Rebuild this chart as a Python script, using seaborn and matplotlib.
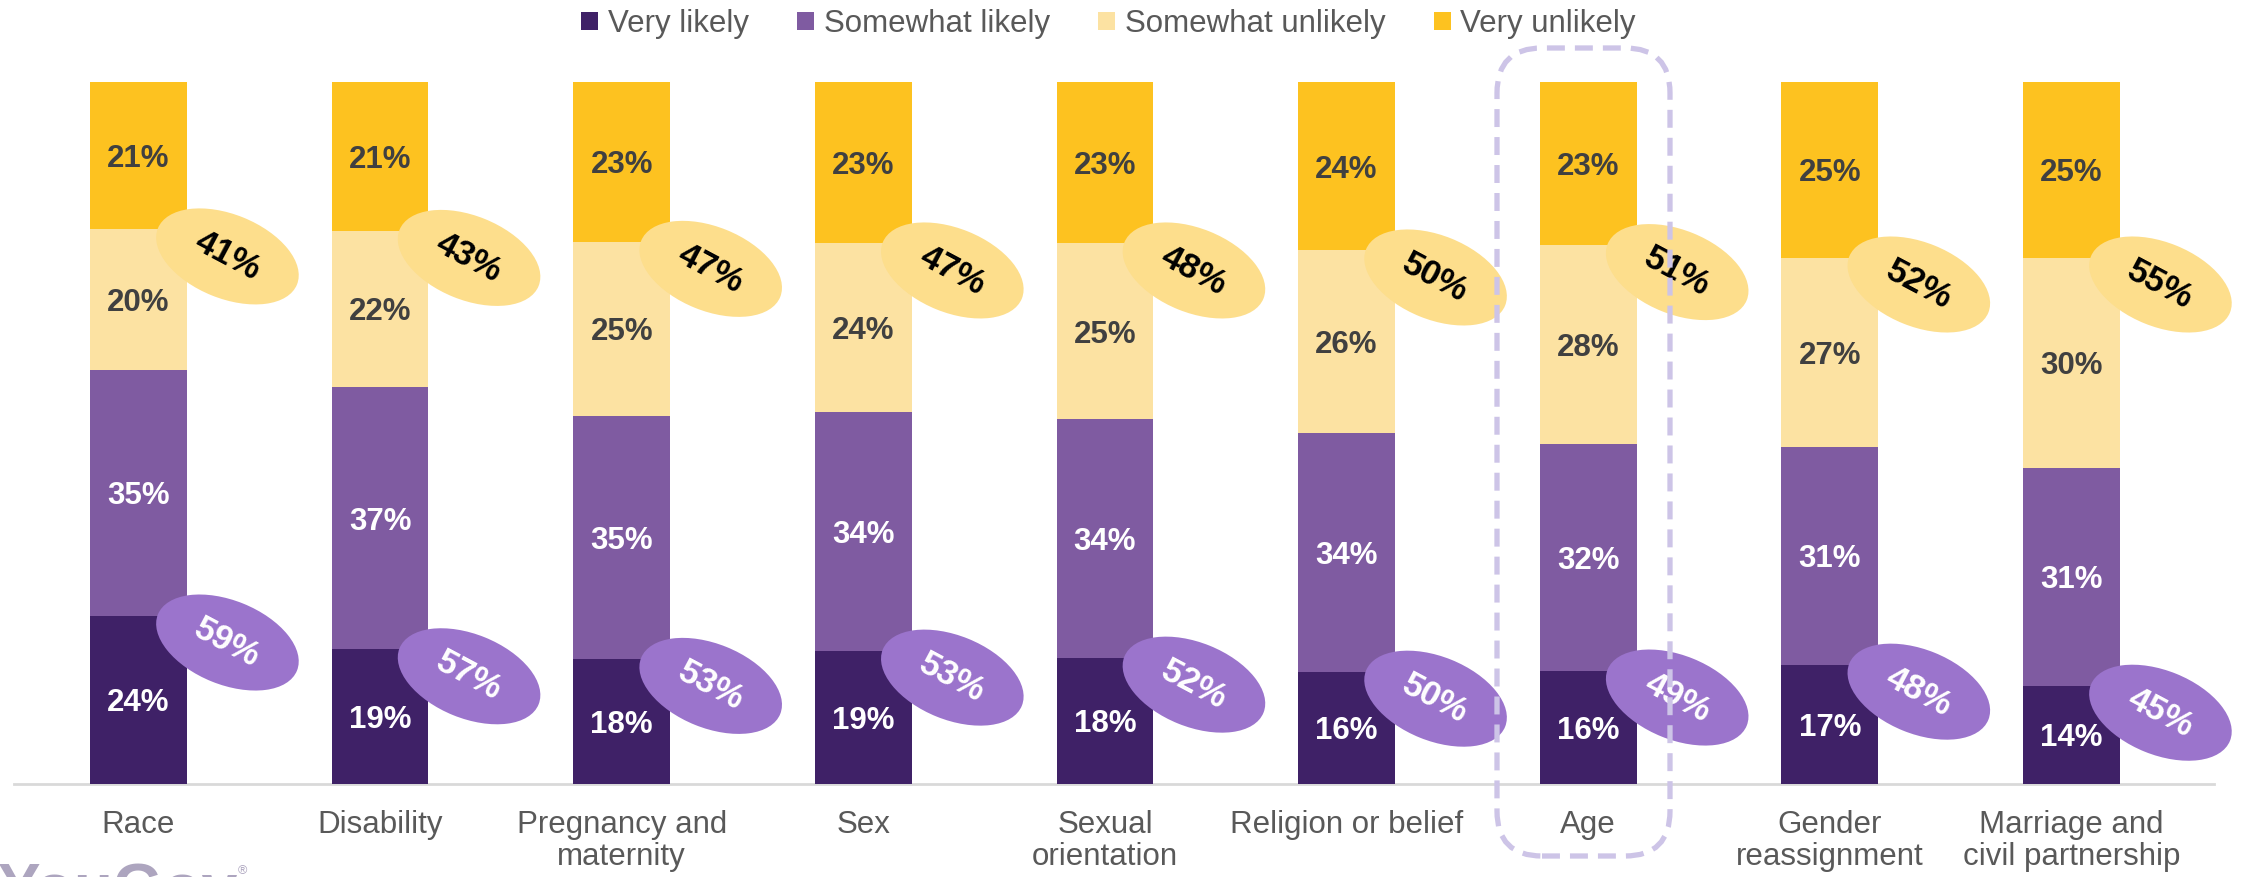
import numpy as np
import pandas as pd
import matplotlib
matplotlib.use("Agg")
import matplotlib.pyplot as plt
import matplotlib.transforms as mtransforms
from matplotlib.patches import Ellipse, FancyBboxPatch, Patch
import seaborn as sns

# ---- data -------------------------------------------------------------
categories = ["Race", "Disability", "Pregnancy and\nmaternity", "Sex",
              "Sexual\norientation", "Religion or belief", "Age",
              "Gender\nreassignment", "Marriage and\ncivil partnership"]
very_likely = [24, 19, 18, 19, 18, 16, 16, 17, 14]
somewhat_likely = [35, 37, 35, 34, 34, 34, 32, 31, 31]
somewhat_unlikely = [20, 22, 25, 24, 25, 26, 28, 27, 30]
very_unlikely = [21, 21, 23, 23, 23, 24, 23, 25, 25]
net_likely = [59, 57, 53, 53, 52, 50, 49, 48, 45]
net_unlikely = [41, 43, 47, 47, 48, 50, 51, 52, 55]
series_names = ["Very likely", "Somewhat likely", "Somewhat unlikely", "Very unlikely"]
highlight = "Age"

# ---- style ------------------------------------------------------------
sns.set_style("white")
plt.rcParams["font.family"] = ["Liberation Sans", "DejaVu Sans"]

colors = ["#3F2167", "#7F5BA1", "#FCE2A2", "#FDC220"]
label_colors = ["white", "white", "#404040", "#404040"]
ell_yellow = "#FDDE8C"
ell_purple = "#9B74CC"
text_grey = "#595959"
FS = 22.5

W, H, DPI = 2244, 877, 100
fig = plt.figure(figsize=(W / DPI, H / DPI), dpi=DPI)
ax = fig.add_axes([14 / W, 1 - 784 / H, 2200 / W, 702 / H])

series = np.array([very_likely, somewhat_likely, somewhat_unlikely, very_unlikely], float)
# 100% stacked: each column is scaled to its own total
shares = series / series.sum(axis=0) * 100
cums = np.cumsum(shares, axis=0)

# draw stacked bars: tallest cumulative layer first, smaller ones on top
for k in range(3, -1, -1):
    df = pd.DataFrame({"category": categories, "top": cums[k]})
    sns.barplot(data=df, x="category", y="top", order=categories,
                color=colors[k], saturation=1, width=0.4, errorbar=None,
                linewidth=0, ax=ax)

# segment value labels
for k in range(4):
    for i in range(len(categories)):
        bottom = cums[k - 1][i] if k > 0 else 0
        ax.text(i, bottom + shares[k][i] / 2, f"{int(series[k][i])}%",
                ha="center", va="center_baseline", fontsize=FS, fontweight="bold",
                color=label_colors[k], zorder=5)

# net ovals: unlikely at the top boundary, likely at the very-likely boundary
OX, OY = 0.89, -0.27
def oval(i, yval, value, face, tcolor):
    trans = fig.dpi_scale_trans + mtransforms.ScaledTranslation(i, yval, ax.transData)
    e = Ellipse((OX, OY), 1.50, 0.84, angle=-22, facecolor=face,
                edgecolor="none", transform=trans, zorder=6, clip_on=False)
    ax.add_artist(e)
    ax.text(OX, OY, f"{value}%", transform=trans, ha="center", va="center",
            rotation=-28, rotation_mode="anchor", fontsize=25, fontweight="bold",
            color=tcolor, zorder=7, clip_on=False)

for i in range(len(categories)):
    oval(i, cums[2][i], net_unlikely[i], ell_yellow, "black")
    oval(i, cums[0][i], net_likely[i], ell_purple, "white")

ax.set_xlim(-0.515, 8.59)
ax.set_ylim(0, 100)
ax.set_xlabel("")
ax.set_ylabel("")
ax.set_yticks([])
ax.set_xticks(range(len(categories)))
ax.set_xticklabels(categories, fontsize=FS, color=text_grey, linespacing=1.05)
ax.tick_params(axis="x", length=0, pad=19)
for s in ["top", "right", "left"]:
    ax.spines[s].set_visible(False)
ax.spines["bottom"].set_color("#D9D9D9")
ax.spines["bottom"].set_linewidth(2)
ax.spines["bottom"].set_zorder(0)

# legend
handles = [Patch(facecolor=c, edgecolor="none") for c in colors]
fig.legend(handles, series_names, loc="center", bbox_to_anchor=(0.494, 1 - 24 / H),
           ncol=4, frameon=False, fontsize=FS, handlelength=0.55, handleheight=0.55,
           handletextpad=0.3, columnspacing=1.55, labelcolor=text_grey)

# dashed highlight frame around one category
box = FancyBboxPatch((14.97, 0.21), 1.73, 8.08,
                     boxstyle="round,pad=0,rounding_size=0.45",
                     transform=fig.dpi_scale_trans, facecolor="none",
                     edgecolor="#CDC4E7", linewidth=3.8,
                     linestyle=(0, (3.4, 1.9)), zorder=10)
fig.patches.append(box)

# brand mark in the lower-left corner
fig.text(-0.001, -0.037, "YouGov", fontsize=46, fontweight="bold",
         color="#ADA5BF", ha="left", va="baseline")
fig.text(238 / W, 1 - 871 / H, "®", fontsize=9, color="#ADA5BF",
         ha="left", va="center")

fig.savefig("out.png", dpi=DPI)
